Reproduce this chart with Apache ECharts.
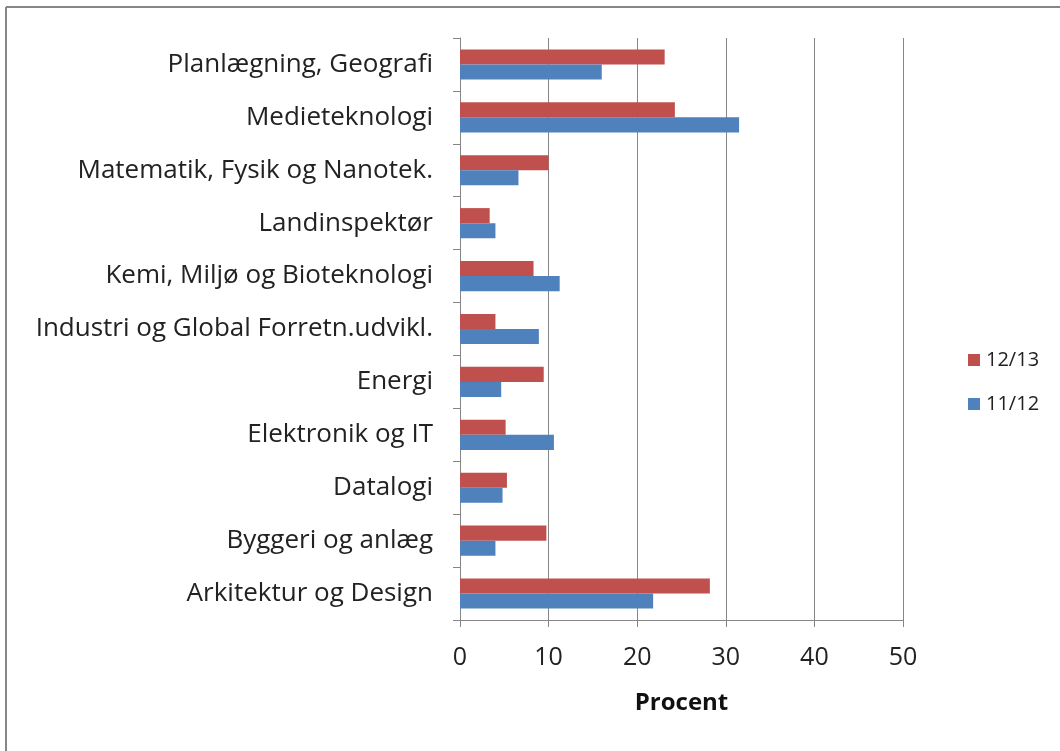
<!DOCTYPE html>
<html>
<head>
<meta charset="utf-8">
<script src="https://cdn.jsdelivr.net/npm/echarts@6/dist/echarts.min.js"></script>
<style>
  html, body { margin: 0; padding: 0; background: #fff; }
  #main { width: 1060px; height: 751px; }
</style>
</head>
<body>
<div id="main"></div>
<script>
// uddannelser, nederst først (kategoriaksen tegnes nedefra)
var categories = [
  'Arkitektur og Design',
  'Byggeri og anlæg',
  'Datalogi',
  'Elektronik og IT',
  'Energi',
  'Industri og Global Forretn.udvikl.',
  'Kemi, Miljø og Bioteknologi',
  'Landinspektør',
  'Matematik, Fysik og Nanotek.',
  'Medieteknologi',
  'Planlægning, Geografi'
];
var values1112 = [21.8, 4.0, 4.8, 10.6, 4.65, 8.9, 11.25, 4.0, 6.6, 31.5, 16.0];
var values1213 = [28.2, 9.75, 5.3, 5.15, 9.45, 4.0, 8.3, 3.35, 10.0, 24.25, 23.1];
var xTicks = [0, 10, 20, 30, 40, 50];

var gray = '#868686';
var myChart = echarts.init(document.getElementById('main'));

var option = {
  animation: false,
  textStyle: { fontFamily: 'Open Sans' },
  graphic: [
    // ramme rundt om diagrammet (kun top og venstre er synlige)
    { type: 'line', shape: { x1: 6, y1: 7, x2: 1060, y2: 7 }, style: { stroke: gray, lineWidth: 2 } },
    { type: 'line', shape: { x1: 6, y1: 7, x2: 6, y2: 751 }, style: { stroke: gray, lineWidth: 2 } }
  ],
  legend: {
    orient: 'vertical',
    left: 963,
    top: 345,
    icon: 'rect',
    itemWidth: 12,
    itemHeight: 12,
    itemGap: 24,
    data: ['12/13', '11/12'],
    textStyle: { fontSize: 20, color: '#222', fontFamily: 'Open Sans', padding: [0, 0, 0, 1] }
  },
  grid: { left: 460, right: 157, top: 38, bottom: 131 },
  xAxis: {
    type: 'value',
    min: xTicks[0],
    max: xTicks[xTicks.length - 1],
    interval: 10,
    name: 'Procent',
    nameLocation: 'middle',
    nameGap: 71,
    nameTextStyle: { fontSize: 24, fontWeight: 'bold', color: '#111' },
    axisLine: { show: true, lineStyle: { color: gray } },
    axisTick: { show: true, length: 7, lineStyle: { color: gray } },
    axisLabel: { fontSize: 25, color: '#222', margin: 25 },
    splitLine: { show: true, lineStyle: { color: gray, width: 1 } }
  },
  yAxis: {
    type: 'category',
    data: categories,
    axisLine: { show: true, lineStyle: { color: gray } },
    axisTick: { show: true, length: 7, alignWithLabel: false, lineStyle: { color: gray } },
    axisLabel: { fontSize: 26, color: '#222', margin: 27, padding: [5, 0, 0, 0] },
    splitLine: { show: false }
  },
  series: [
    {
      name: '12/13',
      type: 'bar',
      data: values1213,
      barCategoryGap: '43%',
      barGap: '0%',
      itemStyle: { color: '#C0504D' }
    },
    {
      name: '11/12',
      type: 'bar',
      data: values1112,
      barCategoryGap: '43%',
      barGap: '0%',
      itemStyle: { color: '#4F81BD' }
    }
  ]
};
myChart.setOption(option);
</script>
</body>
</html>
